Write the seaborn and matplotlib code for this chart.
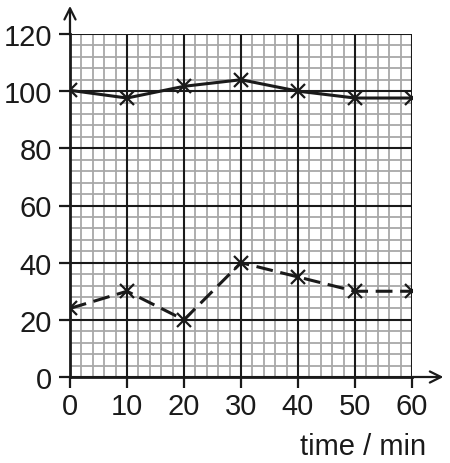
import pandas as pd
import matplotlib.pyplot as plt
import seaborn as sns
from matplotlib.ticker import MultipleLocator

time_min = [0, 10, 20, 30, 40, 50, 60]
upper = [100.3, 97.6, 101.7, 104, 100, 97.6, 97.6]
lower = [24, 30, 20, 40, 35, 30, 30]

df = pd.DataFrame({"time": time_min * 2,
                   "value": upper + lower,
                   "series": ["upper"] * 7 + ["lower"] * 7})

sns.set_style("white")
plt.rcParams["font.family"] = ["Liberation Sans", "DejaVu Sans"]

fig = plt.figure(figsize=(4.5, 4.64), dpi=100)
ax = fig.add_axes([70 / 450, 1 - 378 / 464, 342 / 450, 343 / 464])

sns.lineplot(data=df, x="time", y="value", style="series",
             dashes={"upper": "", "lower": (5.5, 2.5)}, markers={"upper": "x", "lower": "x"},
             color="#1a1a1a", linewidth=2.2, markersize=10, markeredgewidth=1.6,
             markeredgecolor="#1a1a1a", legend=False, ax=ax, zorder=5)

ax.set_xlim(0, 60)
ax.set_ylim(0, 120)
ax.xaxis.set_major_locator(MultipleLocator(10))
ax.yaxis.set_major_locator(MultipleLocator(20))
ax.xaxis.set_minor_locator(MultipleLocator(2))
ax.yaxis.set_minor_locator(MultipleLocator(4))
ax.grid(which="minor", color="#a8a8a8", linewidth=1.3)
ax.grid(which="major", visible=False)
ax.set_axisbelow(True)

# heavy graph-paper lines on top of the fine ones
for xv in ax.get_xticks():
    ax.axvline(xv, color="#1a1a1a", linewidth=1.5, zorder=1)
for yv in ax.get_yticks():
    ax.axhline(yv, color="#1a1a1a", linewidth=1.5, zorder=1)

for s in ["top", "right"]:
    ax.spines[s].set_visible(False)
for s in ["left", "bottom"]:
    ax.spines[s].set_color("#1a1a1a")
    ax.spines[s].set_linewidth(2)

ax.tick_params(which="major", direction="out", length=8, width=1.6, color="#1a1a1a",
               labelsize=21, labelcolor="#1a1a1a", left=True, bottom=True)
ax.tick_params(axis="y", pad=5)
ax.tick_params(axis="x", pad=3)
ax.tick_params(which="minor", length=0)

ax.set_ylabel("")
ax.set_xlabel("time / min", fontsize=21, color="#1a1a1a", ha="right", va="center")
ax.xaxis.set_label_coords((426 - 70) / 342, -(447 - 378) / 343)

# axis arrows
ax.annotate("", xy=(0, 1.09), xytext=(0, 0.99), xycoords="axes fraction",
            arrowprops=dict(arrowstyle="->", color="#1a1a1a", lw=1.6,
                            mutation_scale=20), annotation_clip=False)
ax.annotate("", xy=(1.1, 0), xytext=(0.99, 0), xycoords="axes fraction",
            arrowprops=dict(arrowstyle="->", color="#1a1a1a", lw=1.6,
                            mutation_scale=20), annotation_clip=False)

fig.savefig("out.png", dpi=100)
